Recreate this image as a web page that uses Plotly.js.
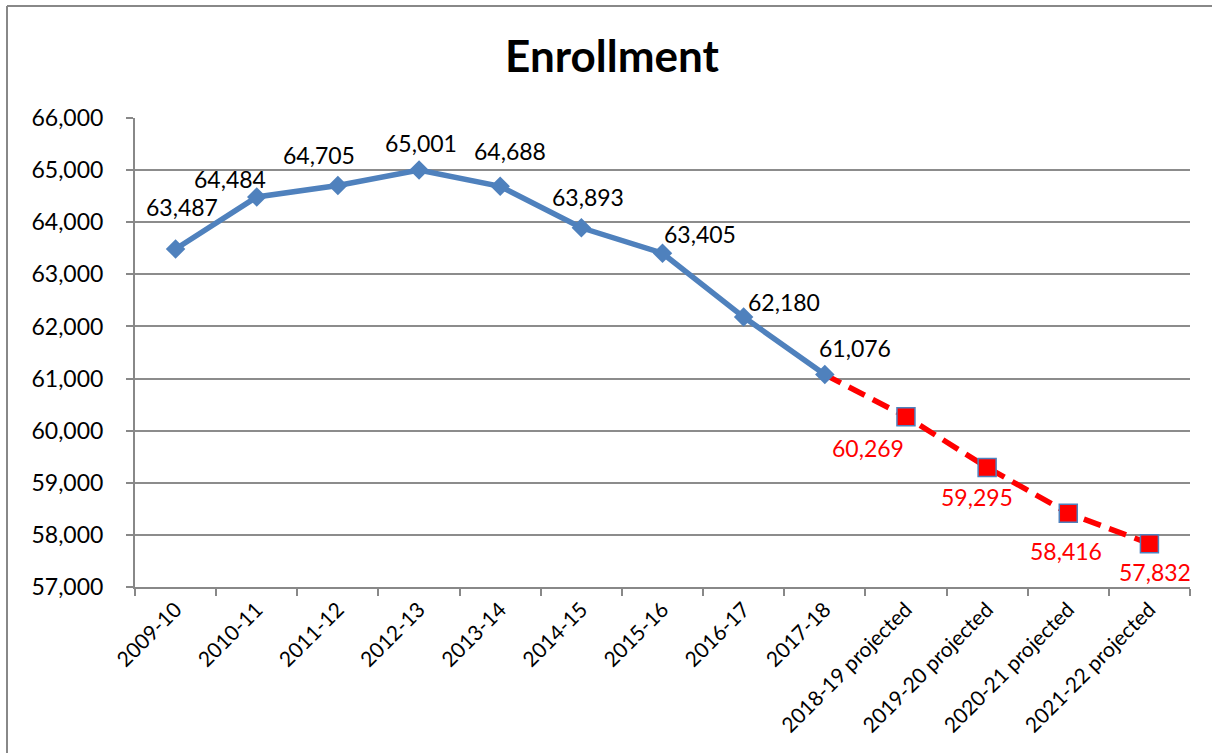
<!DOCTYPE html>
<html>
<head>
<meta charset="utf-8">
<script src="https://cdn.plot.ly/plotly-3.0.1.min.js"></script>
<style>
  html, body { margin: 0; padding: 0; background: #fff; }
  #chart { width: 1212px; height: 753px; }
</style>
</head>
<body>
<div id="chart"></div>
<script>
// ---- data ----
const categories = ["2009-10", "2010-11", "2011-12", "2012-13", "2013-14", "2014-15", "2015-16", "2016-17", "2017-18",
  "2018-19 projected", "2019-20 projected", "2020-21 projected", "2021-22 projected"];
const actualCats = categories.slice(0, 9);
const actualValues = [63487, 64484, 64705, 65001, 64688, 63893, 63405, 62180, 61076];
const projectedCats = categories.slice(8);
const projectedValues = [61076, 60269, 59295, 58416, 57832]; // first point = last actual (link)
const yTickVals = [57000, 58000, 59000, 60000, 61000, 62000, 63000, 64000, 65000, 66000];

// ---- label offsets (style only) ----
const actualLabelDx = [6, -27, -19, 2, 10, 7, 37, 40, 30];
const actualLabelDy = [42, 18, 30, 27, 35, 31, 19, 15, 27];
const projLabelDx = [-38, -10, -2, 6];
const projLabelDy = [-31, -30, -38, -28];

const BLUE = "#4F81BD";
const RED = "#FF0000";
const FONT = "Lato, 'Open Sans', sans-serif";
const fmt = v => v.toLocaleString("en-US");

const traces = [
  {
    x: projectedCats, y: projectedValues, type: "scatter", mode: "lines+markers",
    line: { color: RED, width: 5.5, dash: "18px,9px" },
    marker: { symbol: "square", color: RED, opacity: 1, size: projectedValues.map((v, i) => i === 0 ? 0 : 18),
              line: { color: BLUE, width: 1.5 } },
    hoverinfo: "x+y", showlegend: false
  },
  {
    x: actualCats, y: actualValues, type: "scatter", mode: "lines+markers",
    line: { color: BLUE, width: 5.5 },
    marker: { symbol: "diamond", color: BLUE, size: 15 },
    hoverinfo: "x+y", showlegend: false
  }
];

const annotations = [];
actualCats.forEach((c, i) => annotations.push({
  x: c, y: actualValues[i], xref: "x", yref: "y", text: fmt(actualValues[i]), showarrow: false,
  xanchor: "center", yanchor: "middle", xshift: actualLabelDx[i], yshift: actualLabelDy[i],
  font: { family: FONT, size: 23, color: "#000" }
}));
projectedCats.slice(1).forEach((c, i) => annotations.push({
  x: c, y: projectedValues[i + 1], xref: "x", yref: "y", text: fmt(projectedValues[i + 1]), showarrow: false,
  xanchor: "center", yanchor: "middle", xshift: projLabelDx[i], yshift: projLabelDy[i],
  font: { family: FONT, size: 23, color: RED }
}));

const layout = {
  width: 1212, height: 753,
  margin: { l: 135, r: 22, t: 118, b: 166 },
  paper_bgcolor: "#fff", plot_bgcolor: "#fff",
  font: { family: FONT, color: "#000" },
  title: { text: "<b>Enrollment</b>", x: 612 / 1212, xref: "container", xanchor: "center",
           y: 1 - 57 / 753, yref: "container", yanchor: "middle",
           font: { family: FONT, size: 44, color: "#000" } },
  xaxis: {
    type: "category", categoryorder: "array", categoryarray: categories,
    range: [-0.5, 12.5], tickson: "boundaries", ticks: "outside", ticklen: 7, tickwidth: 2, tickcolor: "#888",
    showline: true, linecolor: "#888", linewidth: 2, showgrid: false, zeroline: false,
    tickangle: -45, tickfont: { family: FONT, size: 21, color: "#000" }, fixedrange: true
  },
  yaxis: {
    range: [57000, 66000], tickvals: yTickVals, ticktext: yTickVals.map(fmt),
    ticks: "outside", ticklen: 7, tickwidth: 2, tickcolor: "#888",
    showline: true, linecolor: "#888", linewidth: 2,
    showgrid: true, gridcolor: "#8c8c8c", gridwidth: 2, zeroline: false,
    ticklabelstandoff: 18,
    tickfont: { family: FONT, size: 23, color: "#000" }, fixedrange: true
  },
  annotations: annotations,
  shapes: [
    { type: "line", xref: "paper", yref: "paper", x0: (7 - 135) / 1055, x1: (7 - 135) / 1055,
      y0: (587 - 760) / 469, y1: (587 - 6) / 469, line: { color: "#888", width: 2 } },
    { type: "line", xref: "paper", yref: "paper", x0: (7 - 135) / 1055, x1: (1220 - 135) / 1055,
      y0: (587 - 6) / 469, y1: (587 - 6) / 469, line: { color: "#888", width: 2 } }
  ],
  showlegend: false
};

Plotly.newPlot("chart", traces, layout, { displayModeBar: false, staticPlot: true });
</script>
</body>
</html>
